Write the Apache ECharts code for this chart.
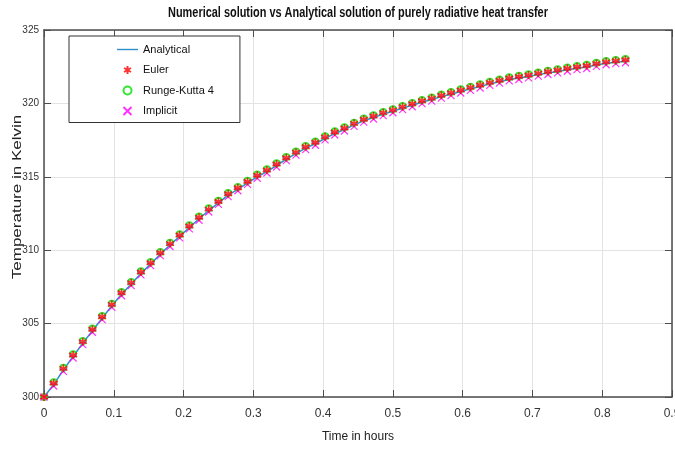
<!DOCTYPE html>
<html>
<head>
<meta charset="utf-8">
<script src="https://cdn.jsdelivr.net/npm/echarts@6/dist/echarts.min.js"></script>
<style>
  html, body { margin: 0; padding: 0; background: #fff; }
  #chart { width: 675px; height: 452px; }
</style>
</head>
<body>
<div id="chart"></div>
<script>
// time in hours (step of 50 s)
var times = [0, 0.0139, 0.0278, 0.0417, 0.0556, 0.0694, 0.0833, 0.0972, 0.1111, 0.125,
  0.1389, 0.1528, 0.1667, 0.1806, 0.1944, 0.2083, 0.2222, 0.2361, 0.25, 0.2639,
  0.2778, 0.2917, 0.3056, 0.3194, 0.3333, 0.3472, 0.3611, 0.375, 0.3889, 0.4028,
  0.4167, 0.4306, 0.4444, 0.4583, 0.4722, 0.4861, 0.5, 0.5139, 0.5278, 0.5417,
  0.5556, 0.5694, 0.5833, 0.5972, 0.6111, 0.625, 0.6389, 0.6528, 0.6667, 0.6806,
  0.6944, 0.7083, 0.7222, 0.7361, 0.75, 0.7639, 0.7778, 0.7917, 0.8056, 0.8194, 0.8333];

var analytical = [300.00, 300.85, 301.85, 302.76, 303.67, 304.51, 305.37, 306.21, 307.00, 307.69,
  308.42, 309.05, 309.73, 310.35, 310.94, 311.55, 312.14, 312.70, 313.22, 313.75,
  314.15, 314.58, 315.00, 315.36, 315.77, 316.20, 316.58, 316.95, 317.25, 317.62,
  317.95, 318.22, 318.54, 318.82, 319.04, 319.27, 319.46, 319.68, 319.87, 320.08,
  320.26, 320.46, 320.63, 320.81, 320.99, 321.15, 321.33, 321.48, 321.63, 321.73,
  321.84, 321.96, 322.07, 322.18, 322.29, 322.40, 322.48, 322.62, 322.73, 322.81, 322.87];

var euler = [300.00, 300.95, 301.95, 302.86, 303.77, 304.61, 305.47, 306.31, 307.10, 307.79,
  308.52, 309.15, 309.83, 310.45, 311.04, 311.65, 312.24, 312.80, 313.32, 313.85,
  314.25, 314.68, 315.10, 315.46, 315.87, 316.30, 316.68, 317.05, 317.35, 317.72,
  318.05, 318.32, 318.64, 318.92, 319.14, 319.37, 319.56, 319.78, 319.97, 320.18,
  320.36, 320.56, 320.73, 320.91, 321.09, 321.25, 321.43, 321.58, 321.73, 321.83,
  321.94, 322.06, 322.17, 322.28, 322.39, 322.50, 322.58, 322.72, 322.83, 322.91, 322.97];

var rk4 = [300.00, 301.00, 302.00, 302.91, 303.82, 304.66, 305.52, 306.36, 307.15, 307.84,
  308.57, 309.20, 309.88, 310.50, 311.09, 311.70, 312.29, 312.85, 313.37, 313.90,
  314.30, 314.73, 315.15, 315.51, 315.92, 316.35, 316.73, 317.10, 317.40, 317.77,
  318.10, 318.37, 318.69, 318.97, 319.19, 319.42, 319.61, 319.83, 320.02, 320.23,
  320.41, 320.61, 320.78, 320.96, 321.14, 321.30, 321.48, 321.63, 321.78, 321.88,
  321.99, 322.11, 322.22, 322.33, 322.44, 322.55, 322.63, 322.77, 322.88, 322.96, 323.02];

var implicit = [300.00, 300.75, 301.75, 302.66, 303.57, 304.41, 305.27, 306.11, 306.90, 307.59,
  308.32, 308.95, 309.63, 310.25, 310.84, 311.45, 312.04, 312.60, 313.12, 313.65,
  314.05, 314.48, 314.90, 315.26, 315.67, 316.10, 316.48, 316.85, 317.15, 317.52,
  317.85, 318.12, 318.44, 318.72, 318.94, 319.17, 319.36, 319.58, 319.77, 319.98,
  320.16, 320.36, 320.53, 320.71, 320.89, 321.05, 321.23, 321.38, 321.53, 321.63,
  321.74, 321.86, 321.97, 322.08, 322.19, 322.30, 322.38, 322.52, 322.63, 322.71, 322.77];

var xTicks = [0, 0.1, 0.2, 0.3, 0.4, 0.5, 0.6, 0.7, 0.8, 0.9];
var yTicks = [300, 305, 310, 315, 320, 325];

function pairs(ys) {
  return times.map(function (t, i) { return [t, ys[i]]; });
}

var font = "'Liberation Sans', Arial, sans-serif";
var axisColor = '#4d4d4d';
var starPath = 'path://M0,-10L0,10M-8.66,-5L8.66,5M-8.66,5L8.66,-5';
var crossPath = 'path://M-10,-10L10,10M-10,10L10,-10';

var chart = echarts.init(document.getElementById('chart'));

var baseX = {
  type: 'value', min: 0, max: 0.9, interval: 0.1,
  axisLine: { onZero: false, lineStyle: { color: axisColor, width: 1.5 } },
  axisTick: { inside: true, length: 7, lineStyle: { color: axisColor } }
};
var baseY = {
  type: 'value', min: 300, max: 325, interval: 5,
  axisLine: { onZero: false, lineStyle: { color: axisColor, width: 1.5 } },
  axisTick: { inside: true, length: 7, lineStyle: { color: axisColor } }
};

var option = {
  animation: false,
  backgroundColor: '#fff',
  graphic: [{
    type: 'text', x: 358, y: 13, scaleX: 0.78, z: 10,
    style: {
      text: 'Numerical solution vs Analytical solution of purely radiative heat transfer',
      align: 'center', verticalAlign: 'middle',
      font: 'bold 14px ' + font, fill: '#111'
    }
  }, {
    // y axis title, squeezed like the original
    type: 'text', x: 17, y: 197, rotation: Math.PI / 2, scaleY: 0.8, z: 10,
    style: {
      text: 'Temperature in Kelvin',
      align: 'center', verticalAlign: 'middle',
      font: '17px ' + font, fill: '#222'
    }
  }],
  legend: {
    orient: 'vertical',
    left: 69, top: 36,
    padding: [8, 26, 5, 48],
    itemGap: 8.5,
    itemWidth: 21,
    itemHeight: 8,
    backgroundColor: '#fff',
    borderColor: '#333',
    borderWidth: 1,
    borderRadius: 0,
    textStyle: { fontFamily: font, fontSize: 11, color: '#111' },
    data: [
      { name: 'Analytical', icon: 'path://M0,0H21V1.4H0Z' },
      'Euler', 'Runge-Kutta 4', 'Implicit'
    ]
  },
  grid: { left: 44, right: 3, top: 30, bottom: 55, outerBoundsMode: 'none' },
  xAxis: [
    Object.assign({}, baseX, {
      position: 'bottom',
      name: 'Time in hours', nameLocation: 'middle', nameGap: 34, nameMoveOverlap: false,
      nameTextStyle: { fontFamily: font, fontSize: 12, color: '#222' },
      axisLabel: {
        margin: 11, fontFamily: font, fontSize: 12, color: '#333',
        formatter: function (v) { return xTicks.indexOf(+v.toFixed(1)) >= 0 ? String(+v.toFixed(1)) : ''; }
      },
      splitLine: { show: true, lineStyle: { color: '#e3e3e3', width: 1 } }
    }),
    Object.assign({}, baseX, {
      position: 'top',
      axisLabel: { show: false },
      splitLine: { show: false }
    })
  ],
  yAxis: [
    Object.assign({}, baseY, {
      position: 'left',
      axisLabel: {
        margin: 5, fontFamily: font, fontSize: 10, color: '#333',
        formatter: function (v) { return yTicks.indexOf(v) >= 0 ? String(v) : ''; }
      },
      splitLine: { show: true, lineStyle: { color: '#e3e3e3', width: 1 } }
    }),
    Object.assign({}, baseY, {
      position: 'right',
      axisLabel: { show: false },
      splitLine: { show: false }
    })
  ],
  series: [
    {
      name: 'Analytical', type: 'line', symbol: 'none',
      data: pairs(analytical),
      lineStyle: { color: '#2f8fc8', width: 1.5 },
      itemStyle: { color: '#2f8fc8' },
      z: 2
    },
    {
      name: 'Runge-Kutta 4', type: 'scatter', symbol: 'emptyCircle', symbolSize: 6,
      data: pairs(rk4),
      itemStyle: { color: '#00e000', borderColor: '#00e000', borderWidth: 1 },
      z: 3
    },
    {
      name: 'Implicit', type: 'scatter', symbol: crossPath, symbolSize: 7,
      data: pairs(implicit),
      itemStyle: { color: 'none', borderColor: '#ff00ff', borderWidth: 1.2 },
      z: 4
    },
    {
      name: 'Euler', type: 'scatter', symbol: starPath, symbolSize: 8,
      data: pairs(euler),
      itemStyle: { color: 'none', borderColor: '#ff0000', borderWidth: 1.6 },
      z: 5
    }
  ]
};

chart.setOption(option);
</script>
</body>
</html>
